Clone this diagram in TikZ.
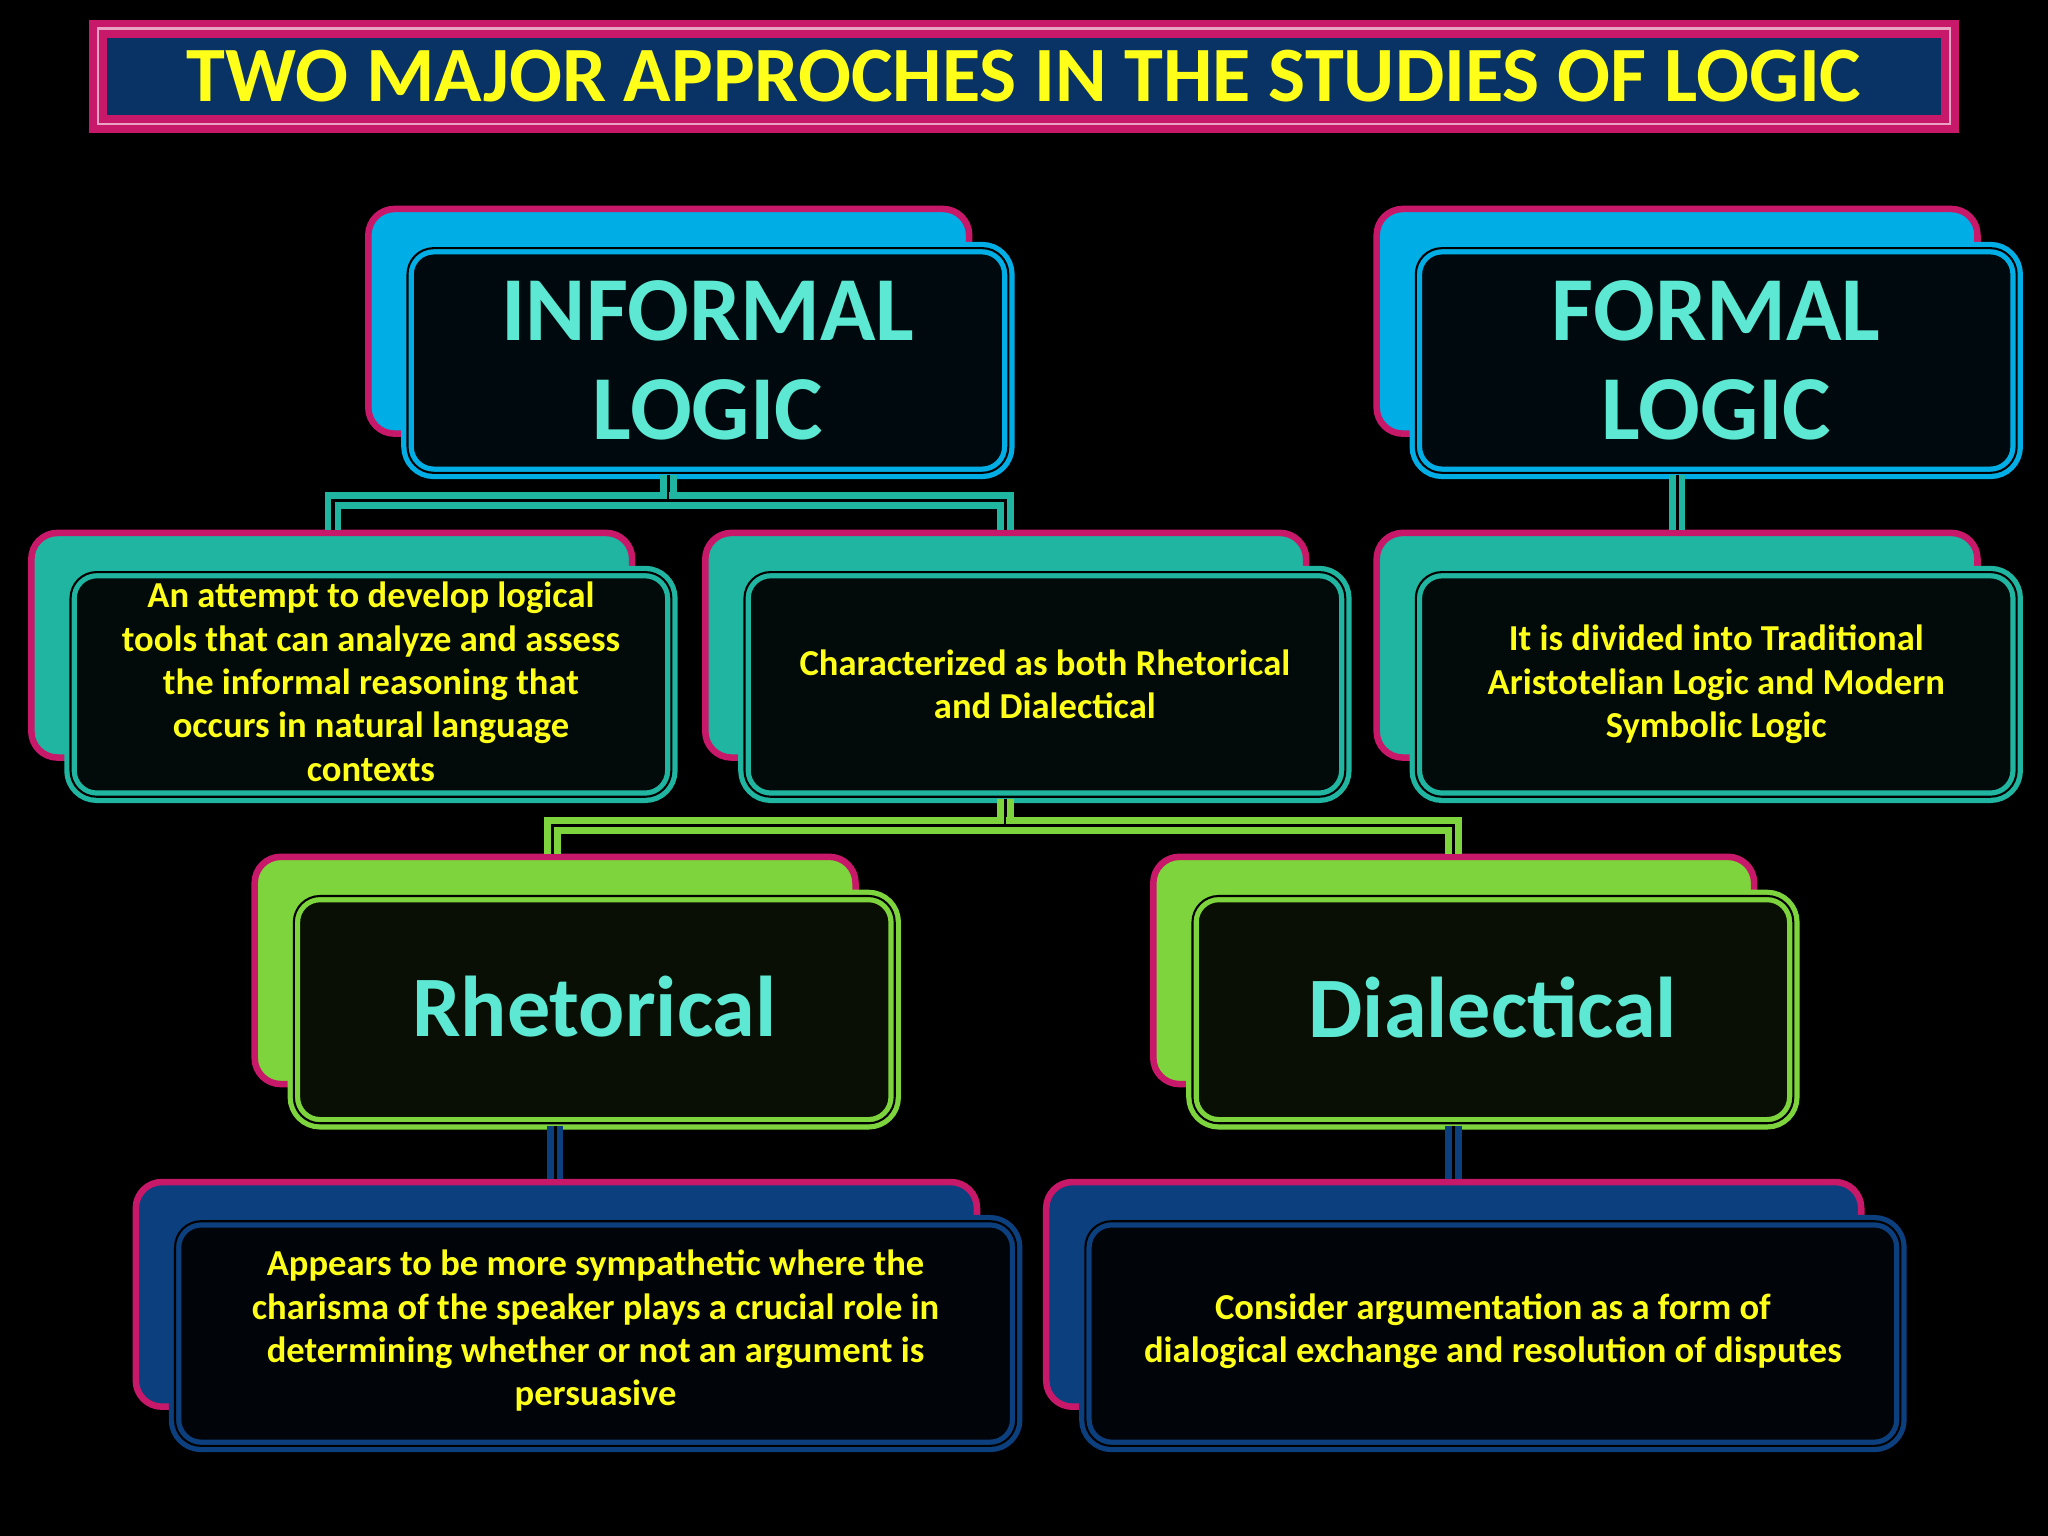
\documentclass[tikz,border=0pt]{standalone}
\usepackage{fontspec}
\setmainfont{Carlito}
\usetikzlibrary{fit,calc}
\definecolor{mag}{HTML}{C8186A}
\definecolor{cy}{HTML}{00AEE6}
\definecolor{tl}{HTML}{1FB5A0}
\definecolor{gr}{HTML}{7ED43C}
\definecolor{db}{HTML}{0B3F7E}
\definecolor{aq}{HTML}{5CE8D2}
\definecolor{yl}{HTML}{FFFF1A}
\tikzset{
 backcard/.style={fit={#1}, inner sep=0, rounded corners=10pt, draw=mag, line width=2.5pt},
 frontcard/.style={fit={#1}, inner sep=0, rounded corners=10pt, line width=2pt, double distance=0.8pt},
 big/.style={text=aq, font=\bfseries\fontsize{35}{38}\selectfont, align=center},
 small/.style={text=yl, font=\bfseries\fontsize{14}{16.6}\selectfont, align=center},
 conn/.style={line width=2.6pt, double distance=1.2pt},
}
\begin{document}
\begin{tikzpicture}[x=0.5pt,y=-0.5pt]
\fill[black] (0,0) rectangle (1568,1176);
% title
\node[fit={(75,22)(1493,95)}, inner sep=0, draw=mag, line width=3pt, fill=db!80!black, double=white!60!mag, double distance=1pt] (title) {};
\node[text=yl, font=\bfseries\fontsize{30}{32}\selectfont] at (title.center) {TWO MAJOR APPROCHES IN THE STUDIES OF LOGIC};
% connectors
\coordinate (j1) at (512,383);
\coordinate (j2) at (770,632);
% top
\node[backcard={(282,160)(742,332)}, fill=cy] (infb) {};
\node[frontcard={(312,190)(772,362)}, draw=cy, double=black, fill=cy!6!black] (inf) {};
\node[backcard={(1054,160)(1514,332)}, fill=cy] (forb) {};
\node[frontcard={(1084,190)(1544,362)}, draw=cy, double=black, fill=cy!6!black] (for) {};
\node[big] at (inf.center) {INFORMAL\\LOGIC};
\node[big] at (for.center) {FORMAL\\LOGIC};
% row 2
\node[backcard={(24,408)(484,580)}, fill=tl] (d1b) {};
\node[frontcard={(54,438)(514,610)}, draw=tl, double=black, fill=tl!6!black] (d1) {};
\node[backcard={(540,408)(1000,580)}, fill=tl] (d2b) {};
\node[frontcard={(570,438)(1030,610)}, draw=tl, double=black, fill=tl!6!black] (d2) {};
\node[backcard={(1054,408)(1514,580)}, fill=tl] (d3b) {};
\node[frontcard={(1084,438)(1544,610)}, draw=tl, double=black, fill=tl!6!black] (d3) {};
\node[small] at ($(d1.center)+(0,-2)$) {An attempt to develop logical\\tools that can analyze and assess\\the informal reasoning that\\occurs in natural language\\contexts};
\node[small] at ($(d2.center)+(0,0)$) {Characterized as both Rhetorical\\and Dialectical};
\node[small] at ($(d3.center)+(0,0)$) {It is divided into Traditional\\Aristotelian Logic and Modern\\Symbolic Logic};
% row 3
\node[backcard={(195,656)(655,830)}, fill=gr] (rhb) {};
\node[frontcard={(225,686)(685,860)}, draw=gr, double=black, fill=gr!7!black] (rh) {};
\node[backcard={(883,656)(1343,830)}, fill=gr] (dib) {};
\node[frontcard={(913,686)(1373,860)}, draw=gr, double=black, fill=gr!7!black] (di) {};
\node[big, font=\bfseries\fontsize{33}{36}\selectfont] at ($(rh.center)+(0,-2)$) {Rhetorical};
\node[big, font=\bfseries\fontsize{33}{36}\selectfont] at ($(di.center)+(0,-2)$) {Dialectical};
% row 4
\node[backcard={(104,905)(748,1077)}, fill=db] (r4ab) {};
\node[frontcard={(134,935)(778,1107)}, draw=db, double=black, fill=db!8!black] (r4a) {};
\node[backcard={(801,905)(1425,1077)}, fill=db] (r4bb) {};
\node[frontcard={(831,935)(1455,1107)}, draw=db, double=black, fill=db!8!black] (r4b) {};
\node[small] at ($(r4a.center)+(0,-2)$) {Appears to be more sympathetic where the\\charisma of the speaker plays a crucial role in\\determining whether or not an argument is\\persuasive};
\node[small] at ($(r4b.center)+(0,-2)$) {Consider argumentation as a form of\\dialogical exchange and resolution of disputes};
% connectors
\draw[conn, draw=tl, double=black] (inf.south -| j1) -- (j1) -| (d1b.north -| 255,0);
\draw[conn, draw=tl, double=black] (j1) -| (d2b.north -| 770,0);
\draw[conn, draw=tl, double=black] (for.south -| 1284,0) -- (d3b.north -| 1284,0);
\draw[conn, draw=gr, double=black] (d2.south -| j2) -- (j2) -| (rhb.north -| 423,0);
\draw[conn, draw=gr, double=black] (j2) -| (dib.north -| 1113,0);
\draw[conn, draw=db, double=black] (rh.south -| 425,0) -- (r4ab.north -| 425,0);
\draw[conn, draw=db, double=black] (di.south -| 1113,0) -- (r4bb.north -| 1113,0);
\end{tikzpicture}
\end{document}
